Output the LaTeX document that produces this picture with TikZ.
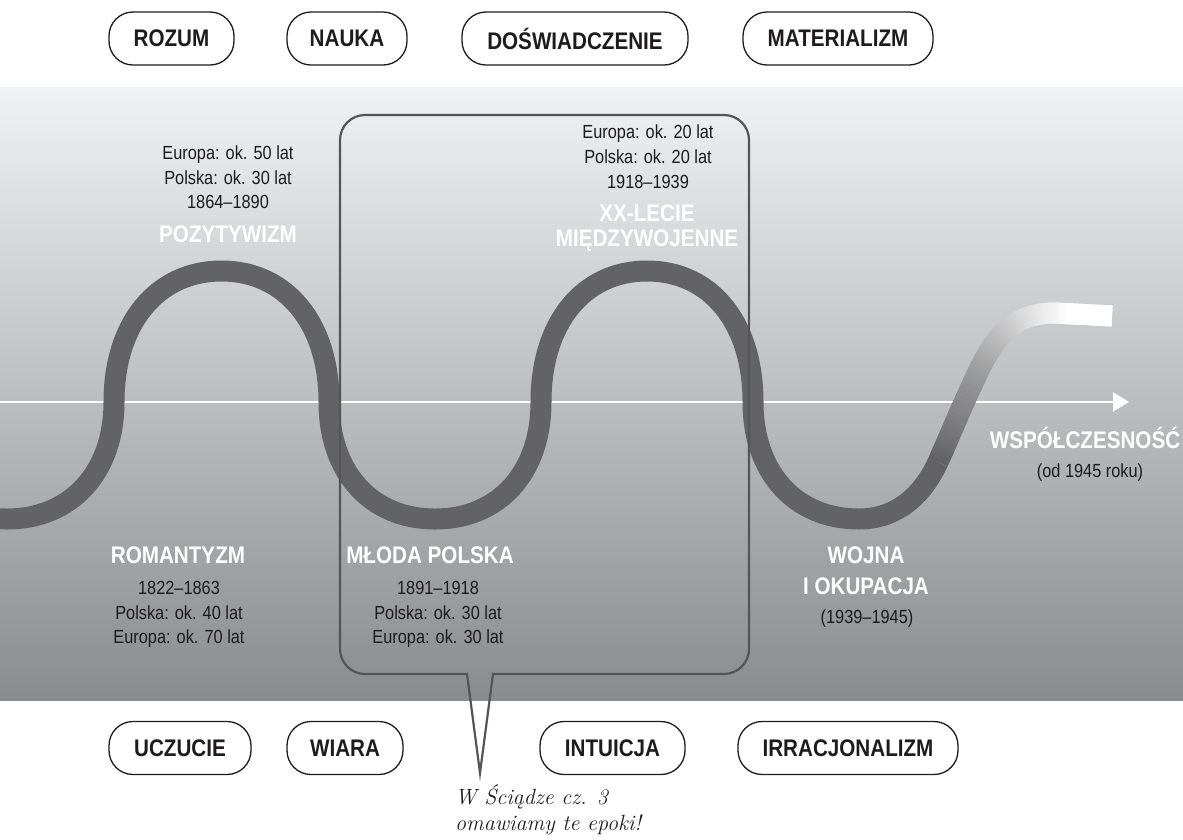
\documentclass[tikz,border=0pt]{standalone}
\usepackage{fontspec}
\newfontfamily\cnd{Liberation Sans}[FakeStretch=0.86]
\usetikzlibrary{arrows.meta}
\definecolor{wavec}{HTML}{636365}
\definecolor{ink}{HTML}{1E1B1C}
\definecolor{bandtop}{HTML}{F0F1F2}
\definecolor{bandbot}{HTML}{8A8B8F}
\definecolor{boxc}{HTML}{555557}
\begin{document}
\begin{tikzpicture}[x=1pt,y=-1pt,
  small/.style={font=\cnd\fontsize{19}{22}\selectfont, text=ink, inner sep=0pt, anchor=base},
  era/.style={font=\cnd\bfseries\fontsize{24}{26}\selectfont, text=white, inner sep=0pt, anchor=base},
  pill/.style={draw=ink, line width=1.3pt, rounded corners=24pt, fill=white,
    font=\cnd\bfseries\fontsize{24}{26}\selectfont, text=ink, minimum height=53pt, inner sep=0pt},
  wavestroke/.style={line width=21pt, line cap=butt, line join=round},
  note/.style={font=\itshape\fontsize{22}{26}\selectfont, text=ink, inner sep=0pt, anchor=base west}
]
\useasboundingbox (0,0) rectangle (1183,839);
\clip (0,0) rectangle (1183,839);
\fill[white] (0,0) rectangle (1183,839);
\shade[top color=bandtop, bottom color=bandbot] (0,87) rectangle (1183,700);

% axis
\coordinate (axL) at (0,402);
\coordinate (axR) at (1129,402);
\draw[white, line width=2pt, -{Triangle[length=16pt,width=19pt]}] (axL) -- (axR);

% wave
\draw[wavestroke, wavec] (-100,402) .. controls (-100,472.2) and (-57.2,519) .. (7,519)
  .. controls (71.2,519) and (114,472.2) .. (114,402)
  .. controls (114,323.4) and (157,271) .. (221.5,271)
  .. controls (286,271) and (329,323.4) .. (329,402)
  .. controls (329,472.2) and (370.8,519) .. (435,519)
  .. controls (499.2,519) and (541,472.2) .. (541,402)
  .. controls (541,323.4) and (582.8,271) .. (647,271)
  .. controls (711.2,271) and (753,323.4) .. (753,402)
  .. controls (753,472.2) and (794.8,519) .. (859,519)
  .. controls (895,519) and (922,497) .. (938,462);

% fading end of the wave, finely sampled
\foreach \k in {0,...,19}{
  \path (938,462) .. controls (948,440) and (958,415) .. (972,385) coordinate[pos=\k/20] (q\k);}
\foreach \k in {0,...,39}{
  \pgfmathtruncatemacro\n{\k+20}
  \path (972,385) .. controls (992,340) and (1010,313) .. (1055,313) coordinate[pos=\k/40] (q\n);}
\foreach \k in {0,...,20}{
  \pgfmathtruncatemacro\n{\k+60}
  \path (1055,313) -- (1112,316) coordinate[pos=\k/20] (q\n);}
\foreach \i in {0,...,78}{
  \pgfmathtruncatemacro\ja{\i+1}
  \pgfmathtruncatemacro\jb{\i+2}
  \pgfmathsetmacro\pc{max(0,100-100*\i/64)}
  \draw[wavestroke, wavec!\pc!white] (q\i) -- (q\ja) -- (q\jb);
}
\draw[wavestroke, white] (q79) -- (q80);

% callout box
\coordinate (tip) at (480,773);
\draw[boxc, line width=2.2pt] (467,674) -- (365,674) .. controls (351.2,674) and (340,662.8) .. (340,649)
  -- (340,140) .. controls (340,126.2) and (351.2,115) .. (365,115)
  -- (724,115) .. controls (737.8,115) and (749,126.2) .. (749,140)
  -- (749,649) .. controls (749,662.8) and (737.8,674) .. (724,674)
  -- (493,674) -- (tip) -- cycle;

% Pozytywizm
\node[small] (p1) at (228,159) {Europa: ok. 50 lat};
\node[small] (p2) at (228,184) {Polska: ok. 30 lat};
\node[small] (p3) at (228,208) {1864–1890};
\node[era] (p4) at (228,242) {POZYTYWIZM};

% XX-lecie
\node[small] (x1) at (648,138) {Europa: ok. 20 lat};
\node[small] (x2) at (648,163) {Polska: ok. 20 lat};
\node[small] (x3) at (648,188) {1918–1939};
\node[era] (x4) at (647,221) {XX-LECIE};
\node[era] (x5) at (647,246) {MIĘDZYWOJENNE};

% Romantyzm
\node[era] (r1) at (178,563) {ROMANTYZM};
\node[small] (r2) at (179,594) {1822–1863};
\node[small] (r3) at (179,619) {Polska: ok. 40 lat};
\node[small] (r4) at (179,643) {Europa: ok. 70 lat};

% Mloda Polska
\node[era] (m1) at (430,563) {MŁODA POLSKA};
\node[small] (m2) at (438,594) {1891–1918};
\node[small] (m3) at (438,619) {Polska: ok. 30 lat};
\node[small] (m4) at (438,643) {Europa: ok. 30 lat};

% Wojna
\node[era] (w1) at (866,563) {WOJNA};
\node[era] (w2) at (866,594) {I OKUPACJA};
\node[small] (w3) at (867,623) {(1939–1945)};

% Wspolczesnosc
\node[era] (s1) at (1085,448) {WSPÓŁCZESNOŚĆ};
\node[small] (s2) at (1090,477) {(od 1945 roku)};

% pills top
\node[pill, minimum width=125pt] (rozum) at (171.5,38.5) {ROZUM};
\node[pill, minimum width=120pt] (nauka) at (347,38.5) {NAUKA};
\node[pill, minimum width=226pt] (dosw) at (575,38.5) {DOŚWIADCZENIE};
\node[pill, minimum width=190pt] (mater) at (838,38.5) {MATERIALIZM};
% pills bottom
\node[pill, minimum width=142pt] (uczucie) at (180,748) {UCZUCIE};
\node[pill, minimum width=116pt] (wiara) at (345,748) {WIARA};
\node[pill, minimum width=145pt] (intu) at (612.5,748) {INTUICJA};
\node[pill, minimum width=220pt] (irra) at (848,748) {IRRACJONALIZM};

% note
\node[note] (n1) at (455,804) {W Ściądze cz. 3};
\node[note] (n2) at (455,830) {omawiamy te epoki!};
\end{tikzpicture}
\end{document}
